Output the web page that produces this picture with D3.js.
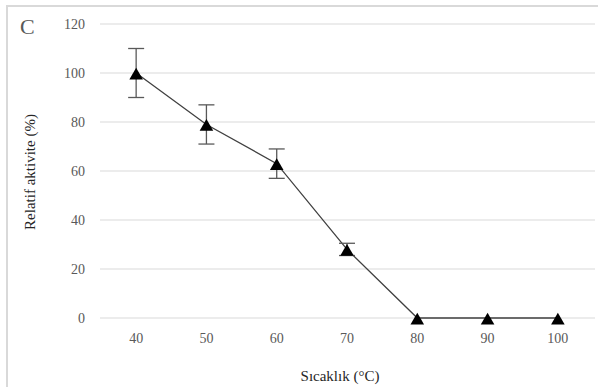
<!DOCTYPE html>
<html><head><meta charset="utf-8">
<script src="https://cdn.jsdelivr.net/npm/d3@7"></script>
<style>body{margin:0;background:#fff;}svg{display:block;} svg text{font-family:"Liberation Serif","Tinos","DejaVu Serif","Times New Roman",serif;}</style>
</head><body>
<svg id="c" width="598" height="387"></svg>
<script>
const categories = ["40","50","60","70","80","90","100"];
const values = [100, 79, 63, 28, 0, 0, 0];
const errors = [10, 8, 6, 2.5, 0, 0, 0];
const yTicks = [0, 20, 40, 60, 80, 100, 120];

const svg = d3.select("#c");
// frame
svg.append("line").attr("x1",7).attr("x2",598).attr("y1",6).attr("y2",6).attr("stroke","#d9d9d9").attr("stroke-width",2);
svg.append("line").attr("x1",7).attr("x2",7).attr("y1",5).attr("y2",387).attr("stroke","#d9d9d9").attr("stroke-width",2);

const x = d3.scaleBand().domain(categories).range([101, 593]);
const y = d3.scaleLinear().domain([0,120]).range([318, 24]);

// gridlines
svg.append("g").selectAll("line").data(yTicks).join("line")
  .attr("x1",100).attr("x2",595).attr("y1",d=>y(d)).attr("y2",d=>y(d))
  .attr("stroke","#d9d9d9").attr("stroke-width",1);

// y axis labels
const yAxis = d3.axisLeft(y).tickValues(yTicks).tickSize(0).tickPadding(0);
const gy = svg.append("g").attr("transform","translate(85,0)").call(yAxis);
gy.attr("font-family",null).attr("font-size",null);
gy.select(".domain").remove();
gy.selectAll("text").attr("font-size",14).attr("fill","#595959").attr("dy","0.32em");

// x axis labels
const xAxis = d3.axisBottom(x).tickSize(0).tickPadding(0);
const gx = svg.append("g").attr("transform","translate(0,333)").call(xAxis);
gx.attr("font-family",null).attr("font-size",null);
gx.select(".domain").remove();
gx.selectAll("text").attr("font-size",14).attr("fill","#595959").attr("dy","0.71em");

const cx = d => x(d) + x.bandwidth()/2;
const pts = categories.map((c,i)=>({c, v: values[i], e: errors[i]}));

// line
svg.append("path").datum(pts)
  .attr("d", d3.line().x(d=>cx(d.c)).y(d=>y(d.v)))
  .attr("fill","none").attr("stroke","#404040").attr("stroke-width",1.3);

// error bars
const eb = svg.append("g").attr("stroke","#595959").attr("stroke-width",1.3);
pts.filter(d=>d.e>0).forEach(d=>{
  const X = cx(d.c);
  eb.append("line").attr("x1",X).attr("x2",X).attr("y1",y(d.v+d.e)).attr("y2",y(d.v-d.e));
  eb.append("line").attr("x1",X-8).attr("x2",X+8).attr("y1",y(d.v+d.e)).attr("y2",y(d.v+d.e));
  eb.append("line").attr("x1",X-8).attr("x2",X+8).attr("y1",y(d.v-d.e)).attr("y2",y(d.v-d.e));
});

// markers
svg.append("g").selectAll("path").data(pts).join("path")
  .attr("d", d3.symbol().type(d3.symbolTriangle).size(80))
  .attr("transform", d=>`translate(${cx(d.c)},${y(d.v)+2.5})`)
  .attr("fill","#000");

// titles
svg.append("text").attr("x",20).attr("y",34).text("C")
  .attr("font-size",22).attr("fill","#595959");
svg.append("text").attr("transform","translate(35,172) rotate(-90)")
  .attr("text-anchor","middle").text("Relatif aktivite (%)")
  .attr("font-size",15).attr("fill","#262626");
svg.append("text").attr("x",340).attr("y",381).attr("text-anchor","middle").text("Sıcaklık (°C)")
  .attr("font-size",15).attr("fill","#262626");
</script>
</body></html>
